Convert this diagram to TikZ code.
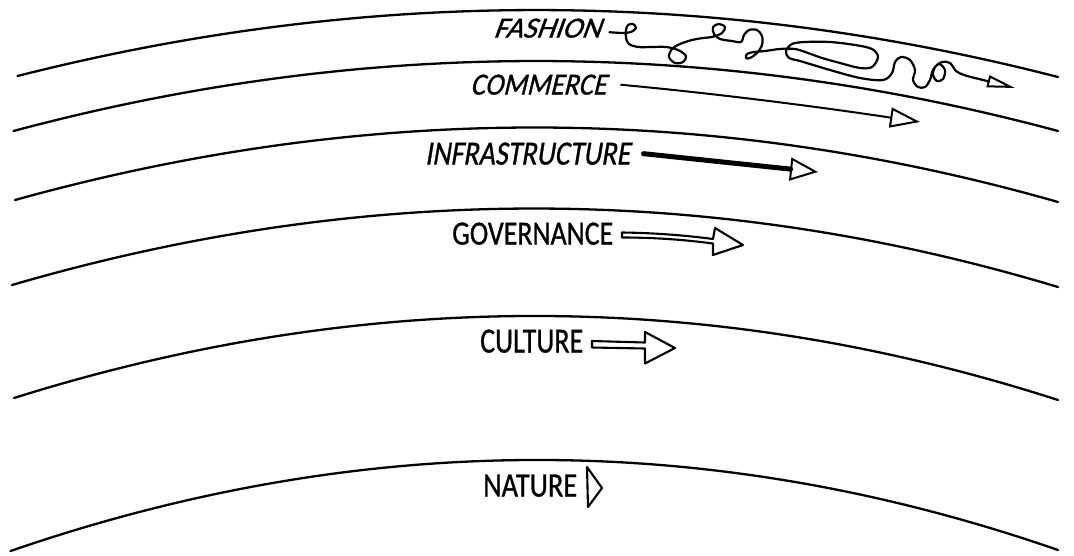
\documentclass[tikz,border=0pt]{standalone}
\usepackage{fontspec}
\setmainfont{Carlito}[FakeBold=0.9]
\newfontfamily\slA{Carlito}[FakeSlant=0.36, FakeBold=0.9]
\newfontfamily\slB{Carlito}[FakeSlant=0.27, FakeBold=0.9]
\newfontfamily\slC{Carlito}[FakeSlant=0.2, FakeBold=0.9]
\usetikzlibrary{arrows.meta}
\newcommand{\fitlab}[3]{\resizebox{#1pt}{#2pt}{#3}}
\begin{document}
\begin{tikzpicture}[x=1pt,y=-1pt,
  band/.style={line width=2.3pt, line cap=round},
  lab/.style={inner sep=0pt, anchor=south west},
  sq/.style={line width=2.2pt, line cap=round, line join=round},
  hollow/.style={draw, line width=2.1pt, fill=white, line join=round}
]
\useasboundingbox (0,0) rectangle (1074,555);

% arcs
\draw[band] (17.5,76) .. controls (364.3,-12.1) and (711.3,-12.1) .. (1058,77);
\draw[band] (13.5,131) .. controls (361.6,37.7) and (711.3,37.7) .. (1058,131);
\draw[band] (15,200) .. controls (363.7,103) and (711.3,103) .. (1058,202);
\draw[band] (12,285) .. controls (362.7,182.7) and (711.3,182.7) .. (1058,287);
\draw[band] (14,398) .. controls (363.3,288.3) and (711.3,288.3) .. (1058,400);
\draw[band] (10.5,551) .. controls (362.3,429.8) and (711.3,429.8) .. (1058,550);

% labels
\node[lab] (fas) at (493,38) {\fitlab{107}{19}{\slA FASHION}};
\node[lab] (com) at (470,95) {\fitlab{136}{20}{\slB COMMERCE}};
\node[lab] (inf) at (425,165) {\fitlab{205}{22}{\slC INFRASTRUCTURE}};
\node[lab] (gov) at (452,245) {\fitlab{161}{22}{GOVERNANCE}};
\node[lab] (cul) at (480,353) {\fitlab{103}{23}{CULTURE}};
\node[lab] (nat) at (483,497) {\fitlab{94}{22}{NATURE}};

% end points
\coordinate (fasT) at (1015,88);
\coordinate (comT) at (920,122);
\coordinate (infT) at (818,172);

% fashion squiggle
\draw[sq] plot[smooth, tension=0.55] coordinates {
  ([xshift=9pt,yshift=-4pt]fas.east) (623,33) (631,32) (636,28) (633,24) (628,25)
  (626,30) (626,38) (629,44) (638,47) (652,47) (666,47) (678,50) (686,56)
  (683,62) (675,63) (669,57) (672,49) (680,44) (692,40) (703,38) (712,37)
  (722,33) (725,27) (719,24) (713,27) (714,34) (720,39) (732,41) (741,42)
  (744,35) (749,30) (757,30) (762,36) (762,45) (757,53) (750,58) (746,58)
  (747,54) (754,52) (765,51) (780,49) (795,49) (808,53) (822,58) (840,63)
  (860,68) (872,67) (878,57) (872,49) (855,45) (830,42) (805,42) (792,44)
  (786,51) (789,58) (800,61) (830,70) (860,78) (883,80) (892,73) (895,62)
  (901,57) (910,60) (915,70) (913,80) (918,87) (925,87) (930,80) (933,70)
  (939,64) (945,70) (943,79) (937,81) (933,75) (935,67) (942,62) (950,63)
  (956,71) (964,75) (975,78)};
\draw[sq, -{Triangle[open, length=28pt, width=12pt, line width=2pt]}] (975,78) -- (fasT);

% commerce
\draw[line width=2pt, -{Triangle[open, length=30pt, width=20pt, line width=2pt]}]
  ([xshift=14pt]com.east) .. controls (720,94) and (820,107) .. (comT);

% infrastructure
\draw[line width=5pt, line cap=round, -{Triangle[open, length=28pt, width=23pt, line width=2pt]}]
  ([xshift=13pt]inf.east) -- (infT);

% governance
\draw[hollow] (622,232.5) .. controls (660,233) and (690,236) .. (713,239)
  -- (715,228) -- (743,245) -- (713,255) -- (713,243.5)
  .. controls (690,240.5) and (660,237.5) .. (622,237.5) -- cycle;

% culture
\draw[hollow] (592,341) -- (645,342.5) -- (645,332) -- (675,348) -- (645,363.5)
  -- (645,348.5) -- (592,347.5) -- cycle;

% nature
\draw[hollow] (587,467) -- (602,488) -- (588,507) -- cycle;
\end{tikzpicture}
\end{document}
